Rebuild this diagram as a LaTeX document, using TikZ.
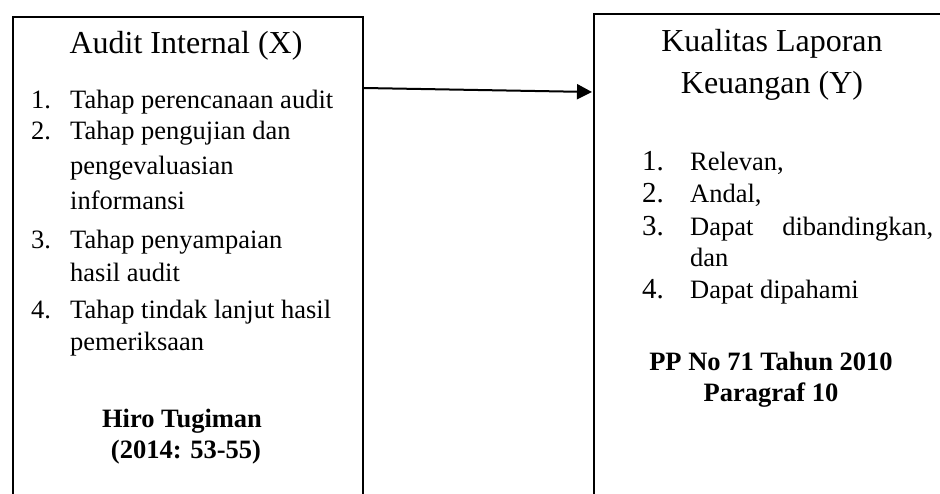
\documentclass[tikz,border=0pt]{standalone}
\usepackage{fontspec}
\setmainfont{Liberation Serif}
\usetikzlibrary{calc,arrows.meta}

\tikzset{
  kotak/.style={draw, line width=2pt, inner sep=0pt},
  judul/.style={font=\fontsize{32}{38}\selectfont, anchor=base, inner sep=0pt},
  isi/.style={font=\fontsize{26.5}{32}\selectfont, anchor=base west, inner sep=0pt},
  nomorY/.style={font=\fontsize{29}{34}\selectfont, anchor=base west, inner sep=0pt},
  sumber/.style={font=\fontsize{26.5}{32}\selectfont\bfseries, anchor=base, inner sep=0pt},
}

\begin{document}
\begin{tikzpicture}[x=1pt,y=-1pt]
\useasboundingbox (0,0) rectangle (940,493);
\clip (0,0) rectangle (940,493);

\node[kotak, minimum width=350pt, minimum height=520pt, anchor=north west] (audit) at (12,16) {};
\node[kotak, minimum width=380pt, minimum height=520pt, anchor=north west] (kualitas) at (593,13) {};

% variabel X
\node[judul] (jx) at (186,53) {Audit Internal (X)};
\node[isi] (nx1) at (31,108) {1.};
\node[isi] (x1) at (70,108) {Tahap perencanaan audit};
\node[isi] (nx2) at (31,139) {2.};
\node[isi] (x2) at (70,139) {Tahap pengujian dan};
\node[isi] (x2b) at (70,174) {pengevaluasian};
\node[isi] (x2c) at (70,209) {informansi};
\node[isi] (nx3) at (31,248) {3.};
\node[isi] (x3) at (70,248) {Tahap penyampaian};
\node[isi] (x3b) at (70,281) {hasil audit};
\node[isi] (nx4) at (31,318) {4.};
\node[isi] (x4) at (70,318) {Tahap tindak lanjut hasil};
\node[isi] (x4b) at (70,350) {pemeriksaan};
\node[sumber] (sx) at (182,427) {Hiro Tugiman};
\node[sumber] (sx2) at (186,458) {(2014: 53-55)};

% variabel Y
\node[judul] (jy) at (772,51) {Kualitas Laporan};
\node[judul] (jy2) at (772,93) {Keuangan (Y)};
\node[nomorY] (ny1) at (642,170) {1.};
\node[isi] (y1) at (690,170) {Relevan,};
\node[nomorY] (ny2) at (642,202) {2.};
\node[isi] (y2) at (690,202) {Andal,};
\node[nomorY] (ny3) at (642,235) {3.};
\node[isi] (y3) at (690,235) {\makebox[243pt][s]{Dapat dibandingkan,}};
\node[isi] (y3b) at (690,266) {dan};
\node[nomorY] (ny4) at (642,298) {4.};
\node[isi] (y4) at (690,298) {Dapat dipahami};
\node[sumber] (sy) at (771,370) {PP No 71 Tahun 2010};
\node[sumber] (sy2) at (771,401) {Paragraf 10};

\draw[-{Triangle[length=15pt,width=15pt]}, line width=2pt] ($(audit.north east)+(0,72)$) -- ($(kualitas.north west)+(-1,79)$);

\end{tikzpicture}
\end{document}
